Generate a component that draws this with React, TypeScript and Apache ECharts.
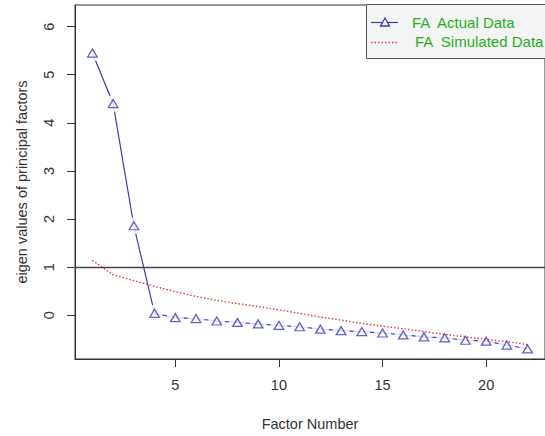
import React, { useEffect, useRef } from "react";
import * as echarts from "echarts";

const factorNumbers = [1, 2, 3, 4, 5, 6, 7, 8, 9, 10, 11, 12, 13, 14, 15, 16, 17, 18, 19, 20, 21, 22];
const actualData = [5.45, 4.4, 1.86, 0.04, -0.05, -0.07, -0.12, -0.15, -0.18, -0.21, -0.24, -0.29, -0.32, -0.34, -0.37, -0.41, -0.45, -0.47, -0.52, -0.54, -0.62, -0.7];
const simulatedData = [1.14, 0.84, 0.72, 0.6, 0.49, 0.39, 0.31, 0.24, 0.18, 0.11, 0.04, -0.04, -0.1, -0.17, -0.23, -0.28, -0.34, -0.4, -0.45, -0.5, -0.55, -0.61];
const xTickValues = [5, 10, 15, 20];
const yTickValues = [0, 1, 2, 3, 4, 5, 6];
const referenceLevel = 1;
const legendLabels = ["FA  Actual Data", "FA  Simulated Data"];
const xAxisTitle = "Factor Number";
const yAxisTitle = "eigen values of principal factors";

export default function App() {
  const ref = useRef<HTMLDivElement>(null);
  useEffect(() => {
    const chart = echarts.init(ref.current!, null, { renderer: "svg" });
    const font = "'Liberation Sans', Arial, sans-serif";
    const blue = "#3a3abf";
    const red = "#e83a3a";
    const green = "#1fb01f";
    const axisColor = "#333333";
    const actualPts = factorNumbers.map((f, i) => [f, actualData[i]]);
    const simPts = factorNumbers.map((f, i) => [f, simulatedData[i]]);

    chart.setOption({
      animation: false,
      backgroundColor: "#ffffff",
      grid: {
        left: 75,
        top: 5,
        width: 477,
        height: 356,
        show: true,
        borderColor: axisColor,
        borderWidth: 1,
        backgroundColor: "transparent",
      },
      xAxis: {
        type: "value",
        min: 0.16,
        max: 22.84,
        name: xAxisTitle,
        nameLocation: "middle",
        nameGap: 57,
        nameTextStyle: { fontFamily: font, fontSize: 14.5, color: axisColor },
        axisLine: { show: true, onZero: false, lineStyle: { color: axisColor, width: 1 } },
        axisTick: { show: true, length: 8, customValues: xTickValues, lineStyle: { color: axisColor } },
        axisLabel: { customValues: xTickValues, margin: 18, fontFamily: font, fontSize: 14.5, color: axisColor },
        splitLine: { show: false },
      },
      yAxis: {
        type: "value",
        min: -0.91,
        max: 6.45,
        name: yAxisTitle,
        nameLocation: "middle",
        nameGap: 46,
        nameTextStyle: { fontFamily: font, fontSize: 14.5, color: axisColor },
        axisLine: { show: true, onZero: false, lineStyle: { color: axisColor, width: 1 } },
        axisTick: { show: true, length: 8, customValues: yTickValues, lineStyle: { color: axisColor } },
        axisLabel: { customValues: yTickValues, rotate: 90, margin: 19, fontFamily: font, fontSize: 14.5, color: axisColor },
        splitLine: { show: false },
      },
      series: [
        {
          type: "line",
          data: actualPts,
          showSymbol: false,
          symbol: "none",
          lineStyle: { color: blue, width: 1.2 },
          z: 2,
          silent: true,
        },
        {
          type: "scatter",
          data: actualPts,
          symbol: "circle",
          symbolSize: 17,
          itemStyle: { color: "#ffffff", borderWidth: 0 },
          z: 3,
          silent: true,
        },
        {
          type: "line",
          data: simPts,
          symbol: "none",
          lineStyle: { color: red, width: 1.4, type: [1.5, 2] },
          z: 4,
          silent: true,
          markLine: {
            silent: true,
            symbol: ["none", "none"],
            label: { show: false },
            lineStyle: { color: "#444444", width: 1.3, type: "solid" },
            data: [{ yAxis: referenceLevel }],
          },
        },
        {
          type: "scatter",
          data: actualPts,
          symbol: "triangle",
          symbolSize: [9.5, 8],
          itemStyle: { color: "rgba(0,0,0,0)", borderColor: blue, borderWidth: 1.3 },
          z: 5,
          silent: true,
        },
      ],
      graphic: [
        {
          type: "rect",
          shape: { x: 366.5, y: 4.5, width: 200, height: 54 },
          style: { fill: "#f4f4f4", stroke: "#555555", lineWidth: 1 },
          z: 10,
        },
        {
          type: "line",
          shape: { x1: 371, y1: 22.5, x2: 398, y2: 22.5 },
          style: { stroke: blue, lineWidth: 1.2 },
          z: 11,
        },
        {
          type: "polygon",
          shape: { points: [[380.5, 26], [389.5, 26], [385, 18]] },
          style: { fill: "#f4f4f4", stroke: blue, lineWidth: 1.3 },
          z: 12,
        },
        {
          type: "line",
          shape: { x1: 371, y1: 42.5, x2: 398, y2: 42.5 },
          style: { stroke: red, lineWidth: 1.3, lineDash: [1.5, 2] },
          z: 11,
        },
        {
          type: "text",
          x: 412,
          y: 22.5,
          style: { text: legendLabels[0], fontFamily: font, fontSize: 15, fill: green, verticalAlign: "middle" },
          z: 12,
        },
        {
          type: "text",
          x: 415,
          y: 41.5,
          style: { text: legendLabels[1], fontFamily: font, fontSize: 15, fill: green, verticalAlign: "middle" },
          z: 12,
        },
      ],
    });
    return () => chart.dispose();
  }, []);
  return <div ref={ref} style={{ position: "absolute", left: 0, top: 0, width: 545, height: 436 }} />;
}
